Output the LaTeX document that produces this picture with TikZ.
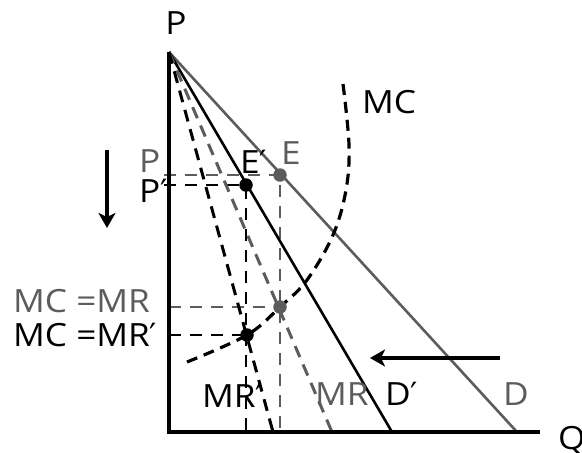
\documentclass[tikz,border=0pt]{standalone}
\usepackage{fontspec}
\setmainfont[FakeStretch=1.1]{Open Sans}
\newfontfamily\primefont{DejaVu Sans}
\newcommand\prm{{\primefont ′}}
\usetikzlibrary{arrows.meta, positioning}
\definecolor{dgray}{gray}{0.36}
\begin{document}
\begin{tikzpicture}[x=1pt, y=-1pt, >={Stealth[length=15pt, width=17pt, inset=4pt]},
  axisline/.style={line width=3.2pt, black},
  dem/.style={line width=2.6pt},
  mrline/.style={line width=3pt, dash pattern=on 12pt off 8pt},
  mccurve/.style={line width=3.2pt, dash pattern=on 11pt off 7pt},
  guide/.style={line width=1.5pt, dash pattern=on 12pt off 9pt},
  eq/.style={circle, inner sep=0pt, minimum size=13.5pt},
  lbl/.style={font=\fontsize{32}{34}\selectfont, inner sep=0pt},
  movearrow/.style={line width=4pt}]
\useasboundingbox (0,0) rectangle (582,453);
% axes
\coordinate (top)   at (169,52);
\coordinate (orig)  at (169,432);
\coordinate (qend)  at (540,432);
\coordinate (dend)  at (517,432);
\coordinate (dpend) at (392,432);
\coordinate (mrend) at (332,432);
\coordinate (mrpend) at (273,432);
% guide lines
\coordinate (pE)   at (164,175);
\coordinate (pEp)  at (164,185);
\coordinate (pM)   at (169,307);
\coordinate (pMp)  at (169,335);
\coordinate (qE)   at (280,432);
\coordinate (qEp)  at (246,432);
\node[eq] (E)   at (280,175) {};
\node[eq] (Ep)  at (246,185) {};
\node[eq] (M)   at (280,307) {};
\node[eq] (Mp)  at (247,335) {};
\draw[guide, dgray] (pE) -- (E.center) -- (qE);
\draw[guide] (pEp) -- (Ep.center) -- (qEp);
\draw[guide, dgray] (pM) -- (M.center);
\draw[guide] (pMp) -- (Mp.center);
% demand and marginal revenue
\draw[dem, dgray] (top) -- (dend);
\draw[dem, black] (top) -- (dpend);
\draw[mrline, dgray] (top) -- (mrend);
\draw[mrline, black] (top) -- (mrpend);
% marginal cost
\draw[mccurve] plot[smooth, tension=0.6] coordinates {(187,362) (247,335) (280,307) (307,280) (333,235) (346,190) (349,145) (343,84)};
\draw[axisline] (top) -- (orig) -- (qend);
\node[eq, fill=dgray] at (E) {};
\node[eq, fill=black] at (Ep) {};
\node[eq, fill=dgray] at (M) {};
\node[eq, fill=black] at (Mp) {};
% shifts
\coordinate (dn1) at (107,150);
\coordinate (dn2) at (107,228);
\coordinate (lf1) at (500,358);
\coordinate (lf2) at (370,358);
\draw[movearrow, ->] (dn1) -- (dn2);
\draw[movearrow, ->] (lf1) -- (lf2);
% labels
\node[lbl] (lP) at (176,23) {P};
\node[lbl, anchor=west] (lQ) at (558,441) {Q};
\node[lbl, anchor=west] (lMC) at (362,102) {MC};
\node[lbl, dgray, anchor=west] (lPe) at (139,161) {P};
\node[lbl, anchor=west] (lPp) at (139,191) {P\prm};
\node[lbl, anchor=west] (lEp) at (240,162) {E\prm};
\node[lbl, dgray, anchor=west] (lE) at (281,153) {E};
\node[lbl, dgray, anchor=west] (lmr) at (13,301) {MC =MR};
\node[lbl, anchor=west] (lmrp) at (13,335) {MC =MR\prm};
\node[lbl, anchor=west] (lMRp) at (202,396) {MR\prm};
\node[lbl, dgray, anchor=west] (lMR) at (315,394) {MR};
\node[lbl, anchor=west] (lDp) at (385,394) {D\prm};
\node[lbl, dgray, anchor=west] (lD) at (503,394) {D};
\end{tikzpicture}
\end{document}
